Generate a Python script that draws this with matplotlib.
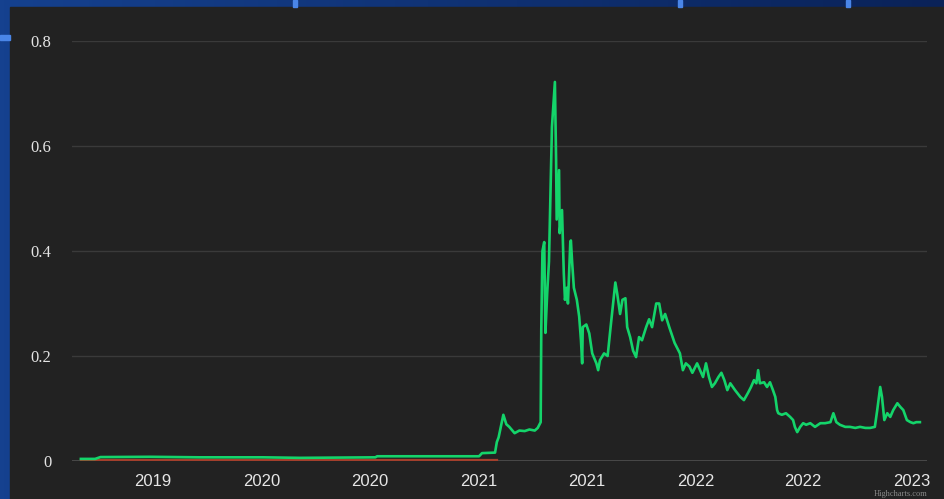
import numpy as np
import pandas as pd
import matplotlib
matplotlib.use("Agg")
import matplotlib.pyplot as plt
import matplotlib.dates as mdates
from matplotlib.patches import Rectangle

# Green series: price readings taken from the chart
price_dates = [
    "2019-03-01", "2019-03-25", "2019-04-03", "2019-06-26", "2019-09-18",
    "2020-01-03", "2020-03-05", "2020-07-10", "2020-07-13", "2020-12-17",
    "2021-01-01", "2021-01-06", "2021-01-28", "2021-01-31", "2021-02-03",
    "2021-02-11", "2021-02-16", "2021-02-21", "2021-03-02", "2021-03-10",
    "2021-03-19", "2021-03-27", "2021-04-05", "2021-04-10", "2021-04-15",
    "2021-04-16", "2021-04-18", "2021-04-21", "2021-04-23", "2021-04-26",
    "2021-04-29", "2021-05-04", "2021-05-09", "2021-05-11", "2021-05-12",
    "2021-05-16", "2021-05-17", "2021-05-21", "2021-05-24", "2021-05-26",
    "2021-05-29", "2021-05-31", "2021-06-04", "2021-06-05", "2021-06-07",
    "2021-06-10", "2021-06-15", "2021-06-19", "2021-06-22", "2021-06-24",
    "2021-06-25", "2021-07-01", "2021-07-06", "2021-07-11", "2021-07-18",
    "2021-07-21", "2021-07-24", "2021-07-31", "2021-08-06", "2021-08-11",
    "2021-08-16", "2021-08-19", "2021-08-22", "2021-08-27", "2021-08-31",
    "2021-09-05", "2021-09-08", "2021-09-13", "2021-09-18", "2021-09-23",
    "2021-09-28", "2021-10-03", "2021-10-10", "2021-10-15", "2021-10-20",
    "2021-10-27", "2021-11-01", "2021-11-06", "2021-11-11", "2021-11-18",
    "2021-11-27", "2021-12-06", "2021-12-11", "2021-12-16", "2021-12-22",
    "2021-12-27", "2022-01-04", "2022-01-09", "2022-01-14", "2022-01-19",
    "2022-01-24", "2022-01-29", "2022-02-03", "2022-02-09", "2022-02-14",
    "2022-02-19", "2022-02-24", "2022-03-01", "2022-03-09", "2022-03-18",
    "2022-03-24", "2022-03-31", "2022-04-05", "2022-04-10", "2022-04-14",
    "2022-04-17", "2022-04-20", "2022-04-27", "2022-05-02", "2022-05-07",
    "2022-05-12", "2022-05-16", "2022-05-19", "2022-05-21", "2022-05-27",
    "2022-06-03", "2022-06-10", "2022-06-15", "2022-06-18", "2022-06-22",
    "2022-06-27", "2022-07-02", "2022-07-07", "2022-07-14", "2022-07-22",
    "2022-07-31", "2022-08-08", "2022-08-17", "2022-08-22", "2022-08-27",
    "2022-09-02", "2022-09-11", "2022-09-19", "2022-09-28", "2022-10-06",
    "2022-10-15", "2022-10-23", "2022-10-31", "2022-11-04", "2022-11-09",
    "2022-11-12", "2022-11-16", "2022-11-21", "2022-11-26", "2022-12-01",
    "2022-12-08", "2022-12-13", "2022-12-18", "2022-12-24", "2022-12-30",
    "2023-01-04", "2023-01-09", "2023-01-15",
]
price_values = [
    0.004, 0.004, 0.0075, 0.008, 0.007,
    0.007, 0.006, 0.007, 0.009, 0.009,
    0.009, 0.015, 0.016, 0.036, 0.045,
    0.088, 0.070, 0.065, 0.053, 0.058,
    0.057, 0.060, 0.058, 0.063, 0.074,
    0.250, 0.400, 0.417, 0.244, 0.320,
    0.380, 0.636, 0.722, 0.573, 0.460,
    0.554, 0.434, 0.478, 0.358, 0.307,
    0.330, 0.300, 0.417, 0.420, 0.380,
    0.330, 0.307, 0.275, 0.230, 0.186,
    0.255, 0.260, 0.243, 0.205, 0.186,
    0.173, 0.192, 0.205, 0.200, 0.255,
    0.307, 0.340, 0.320, 0.280, 0.307,
    0.310, 0.255, 0.236, 0.210, 0.198,
    0.236, 0.230, 0.255, 0.270, 0.255,
    0.300, 0.300, 0.268, 0.280, 0.255,
    0.225, 0.205, 0.173, 0.186, 0.180,
    0.168, 0.186, 0.173, 0.160, 0.186,
    0.160, 0.141, 0.148, 0.160, 0.168,
    0.154, 0.135, 0.148, 0.135, 0.122,
    0.116, 0.130, 0.141, 0.154, 0.148,
    0.173, 0.148, 0.150, 0.141, 0.150,
    0.135, 0.122, 0.097, 0.091, 0.088,
    0.091, 0.084, 0.078, 0.065, 0.055,
    0.065, 0.072, 0.069, 0.072, 0.065,
    0.072, 0.072, 0.074, 0.091, 0.074,
    0.069, 0.065, 0.065, 0.063, 0.065,
    0.063, 0.063, 0.065, 0.097, 0.141,
    0.122, 0.078, 0.091, 0.084, 0.097,
    0.110, 0.103, 0.097, 0.078, 0.074,
    0.072, 0.074, 0.074,
]

# Red series hugging the zero line until early 2021
low_dates = ["2019-03-01", "2020-07-01", "2021-01-31"]
low_values = [0.001, 0.001, 0.001]

# Axis ticks and labels as shown on the chart
tick_dates = ["2019-07-01", "2020-01-01", "2020-07-01", "2021-01-01",
              "2021-07-01", "2022-01-01", "2022-07-01", "2023-01-01"]
tick_labels = ["2019", "2020", "2020", "2021", "2021", "2022", "2022", "2023"]
y_ticks = [0, 0.2, 0.4, 0.6, 0.8]
y_labels = ["0", "0.2", "0.4", "0.6", "0.8"]

W, H = 945, 499
fig = plt.figure(figsize=(W / 100, H / 100), dpi=100)

# Blue slide background with a soft left-to-right gradient
bg = fig.add_axes([0, 0, 1, 1])
grad = np.linspace(0, 1, 256).reshape(1, -1)
cmap = matplotlib.colors.LinearSegmentedColormap.from_list("bg", ["#15418f", "#0a2258"])
bg.imshow(grad, aspect="auto", cmap=cmap, extent=[0, 1, 0, 1])
bg.set_xlim(0, 1)
bg.set_ylim(0, 1)
bg.axis("off")

# Dark chart panel
bg.add_patch(Rectangle((10 / W, 0), 1, 1 - 7 / H, color="#222222", zorder=2))
# Little light-blue slide marks peeking out around the panel
for x0 in [293, 678, 846]:
    bg.add_patch(Rectangle((x0 / W, 1 - 7 / H), 4 / W, 7 / H, color="#4a86e8", zorder=3))
bg.add_patch(Rectangle((0, 1 - 40 / H), 10 / W, 5 / H, color="#4a86e8", zorder=3))

# Plot area
ax = fig.add_axes([72 / W, (H - 461) / H, (927 - 72) / W, (461 - 41) / H])
ax.set_facecolor("none")
ax.plot(pd.to_datetime(low_dates), low_values, color="#a33f2c", lw=1.6, zorder=3)
ax.plot(pd.to_datetime(price_dates), price_values, color="#14d46a", lw=1.9,
        zorder=4, solid_joinstyle="round")

ax.set_xlim(pd.Timestamp("2019-02-14"), pd.Timestamp("2023-01-27"))
ax.set_ylim(0, 0.8)

for s in ax.spines.values():
    s.set_visible(False)
ax.axhline(0, color="#4e4e4e", lw=1.2, zorder=2)

ax.set_yticks(y_ticks)
ax.set_yticklabels(y_labels, fontfamily="Liberation Serif", fontsize=12, color="#e4e4e4")
ax.grid(axis="y", color="#3a3a3a", lw=1.0)
ax.tick_params(axis="y", length=0, pad=15)

ax.set_xticks(mdates.date2num(pd.to_datetime(tick_dates)))
ax.set_xticklabels(tick_labels, fontfamily="Liberation Sans", fontsize=12, color="#e6e6e6")
ax.tick_params(axis="x", length=0, pad=9)

# Credit text in the bottom-right corner
fig.text(927 / W, 0.5 / H, "Highcharts.com", ha="right", va="bottom",
         fontsize=6, color="#8a8a8a", fontfamily="Liberation Serif")

fig.savefig("out.png", dpi=100)
